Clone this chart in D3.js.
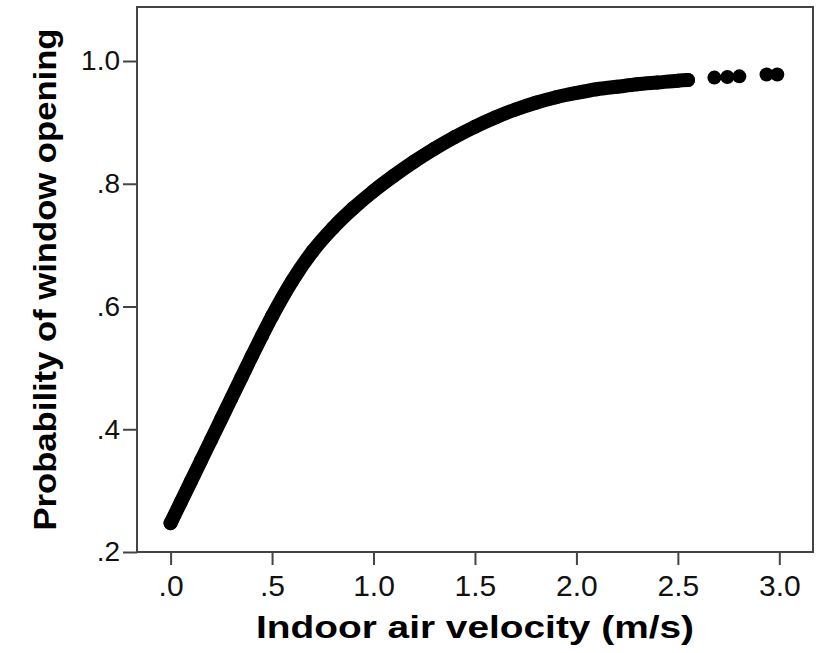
<!DOCTYPE html>
<html>
<head>
<meta charset="utf-8">
<title>Probability of window opening</title>
<script src="https://cdn.jsdelivr.net/npm/d3@7"></script>
<style>
  body { margin: 0; background: #fff; }
  svg { display: block; font-family: Arial, "Liberation Sans", sans-serif; }
  .tick text { fill: #111; }
</style>
</head>
<body>
<svg id="chart" width="821" height="653"></svg>
<script>
// curve (dense part of the scatter)
const velocity = [0, 0.05, 0.1, 0.15, 0.2, 0.25, 0.3, 0.35, 0.4, 0.45, 0.5, 0.6, 0.7, 0.8, 0.9,
  1.0, 1.1, 1.2, 1.3, 1.4, 1.5, 1.6, 1.7, 1.8, 1.9, 2.0, 2.1, 2.2, 2.3, 2.4, 2.5, 2.55];
const probability = [0.247, 0.281, 0.315, 0.349, 0.383, 0.417, 0.451, 0.485, 0.519, 0.552, 0.584,
  0.642, 0.69, 0.728, 0.76, 0.788, 0.813, 0.836, 0.857, 0.876, 0.893, 0.908, 0.921, 0.932, 0.941,
  0.948, 0.954, 0.958, 0.962, 0.965, 0.968, 0.969];

// isolated points at the high end
const outlierVelocity = [2.68, 2.744, 2.803, 2.937, 2.99];
const outlierProbability = [0.973, 0.974, 0.975, 0.978, 0.978];

const xTicks = [0, 0.5, 1.0, 1.5, 2.0, 2.5, 3.0];
const yTicks = [0.2, 0.4, 0.6, 0.8, 1.0];

const svg = d3.select("#chart");
const m = { left: 137, right: 813, top: 7, bottom: 552 };

const x = d3.scaleLinear().domain([-0.1656, 3.166]).range([m.left, m.right]);
const y = d3.scaleLinear().domain([0.2, 1.088]).range([m.bottom, m.top]);

const fmt = d => d >= 1 ? d.toFixed(1) : d.toFixed(1).replace(/^0/, "");

// axes
const gx = svg.append("g")
  .attr("transform", `translate(0,${m.bottom})`)
  .call(d3.axisBottom(x).tickValues(xTicks).tickSize(13).tickPadding(10).tickFormat(fmt));
gx.select(".domain").remove();
gx.selectAll(".tick line").attr("stroke", "#444").attr("stroke-width", 2);
gx.selectAll(".tick text").attr("font-size", 30).attr("dy", "0.71em");

const gy = svg.append("g")
  .attr("transform", `translate(${m.left},0)`)
  .call(d3.axisLeft(y).tickValues(yTicks).tickSize(14).tickPadding(3).tickFormat(fmt));
gy.select(".domain").remove();
gy.selectAll(".tick line").attr("stroke", "#444").attr("stroke-width", 2);
gy.selectAll(".tick text").attr("font-size", 28);

// plot frame
svg.append("rect")
  .attr("x", m.left).attr("y", m.top)
  .attr("width", m.right - m.left).attr("height", m.bottom - m.top)
  .attr("fill", "none").attr("stroke", "#444").attr("stroke-width", 2);

// dense band of overlapping dots
const pts = velocity.map((v, i) => [v, probability[i]]);
const line = d3.line().x(d => x(d[0])).y(d => y(d[1])).curve(d3.curveMonotoneX);
svg.append("path")
  .datum(pts)
  .attr("d", line)
  .attr("fill", "none").attr("stroke", "#000")
  .attr("stroke-width", 14).attr("stroke-linecap", "round").attr("stroke-linejoin", "round");

svg.append("g").selectAll("circle")
  .data(pts.concat(outlierVelocity.map((v, i) => [v, outlierProbability[i]])))
  .join("circle")
  .attr("cx", d => x(d[0]))
  .attr("cy", d => y(d[1]))
  .attr("r", 7)
  .attr("fill", "#000");

// axis titles
svg.append("text")
  .attr("x", (m.left + m.right) / 2).attr("y", 638)
  .attr("text-anchor", "middle")
  .attr("font-size", 31).attr("font-weight", "bold")
  .attr("textLength", 438).attr("lengthAdjust", "spacingAndGlyphs")
  .text("Indoor air velocity (m/s)");

svg.append("text")
  .attr("transform", `translate(56,${(m.top + m.bottom) / 2}) rotate(-90)`)
  .attr("text-anchor", "middle")
  .attr("font-size", 31).attr("font-weight", "bold")
  .attr("textLength", 502).attr("lengthAdjust", "spacingAndGlyphs")
  .text("Probability of window opening");
</script>
</body>
</html>
